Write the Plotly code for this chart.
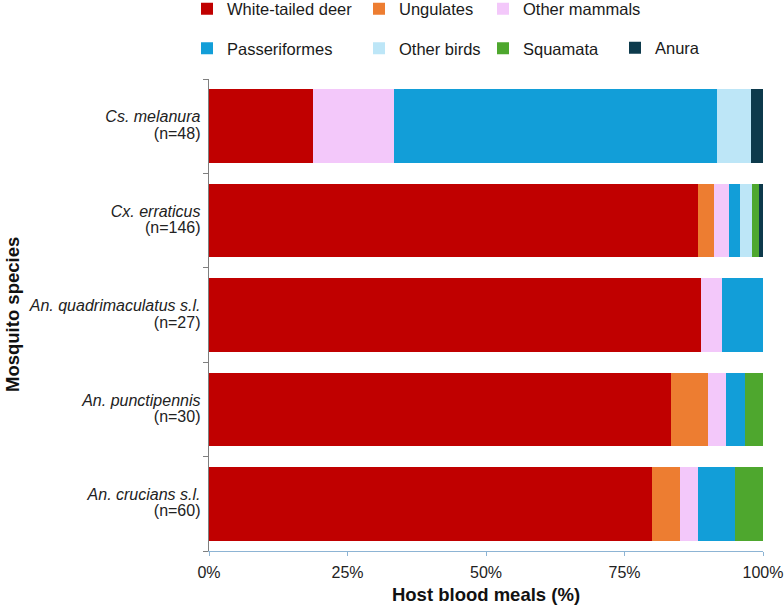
import plotly.graph_objects as go

# Mosquito species (top to bottom) and sample sizes
species = ['Cs. melanura', 'Cx. erraticus', 'An. quadrimaculatus s.l.',
           'An. punctipennis', 'An. crucians s.l.']
n_meals = [48, 146, 27, 30, 60]

# Blood meal counts per host group (same order as species)
hosts = ['White-tailed deer', 'Ungulates', 'Other mammals',
         'Passeriformes', 'Other birds', 'Squamata', 'Anura']
deer = [9, 129, 24, 25, 48]
ungulates = [0, 4, 0, 2, 3]
other_mammals = [7, 4, 1, 1, 2]
passeriformes = [28, 3, 2, 1, 4]
other_birds = [3, 3, 0, 0, 0]
squamata = [0, 2, 0, 1, 3]
anura = [1, 1, 0, 0, 0]

counts = [deer, ungulates, other_mammals, passeriformes,
          other_birds, squamata, anura]
colors = ['#C00000', '#ED7D31', '#F3C8FA', '#129ED8',
          '#BDE6F7', '#4EA72E', '#0D3A4C']
# which legend column each host goes into
legend_ids = ['legend', 'legend2', 'legend3', 'legend', 'legend2', 'legend3', 'legend4']

# small base size keeps the two label lines close together
span = "<span style='font-size:16px'>{}</span>"
labels = [span.format(f'<i>{s}</i>') + '<br>' + span.format(f'(n={n})')
          for s, n in zip(species, n_meals)]

fig = go.Figure()
for name, vals, col, lg in zip(hosts, counts, colors, legend_ids):
    pct = [v / n * 100 for v, n in zip(vals, n_meals)]
    fig.add_trace(go.Bar(
        y=labels, x=pct, name=name, orientation='h',
        marker=dict(color=col, line=dict(width=0)),
        legend=lg, legendgroup=name,
    ))

leg_common = dict(orientation='v', xref='container', yref='paper',
                  yanchor='top', xanchor='left', traceorder='grouped',
                  tracegroupgap=15, font=dict(size=16.5, color='#1a1a1a'),
                  bgcolor='rgba(0,0,0,0)', itemwidth=30)

top_y = 1 + (79 + 8.5) / 472
fig.update_layout(
    width=784, height=614,
    barmode='stack', bargap=0.22,
    plot_bgcolor='white', paper_bgcolor='white',
    font=dict(family='Liberation Sans, Arial, sans-serif', color='#222222'),
    margin=dict(l=209, r=21, t=79, b=63, autoexpand=False),
    legend=dict(x=187 / 784, y=top_y, **leg_common),
    legend2=dict(x=359 / 784, y=top_y, **leg_common),
    legend3=dict(x=483 / 784, y=top_y, **leg_common),
    legend4=dict(x=615 / 784, y=1 + (79 - 30.5) / 472, **leg_common),
    xaxis=dict(
        range=[0, 100], tickvals=[0, 25, 50, 75, 100],
        ticktext=['0%', '25%', '50%', '75%', '100%'],
        showgrid=False, zeroline=False,
        showline=True, linecolor='#8DB4D4', linewidth=1,
        ticks='outside', ticklen=4, tickcolor='#8DB4D4',
        tickfont=dict(size=16, color='#222222'), ticklabelstandoff=3,
        title=dict(text='<b>Host blood meals (%)</b>', font=dict(size=18.5, color='#111111'),
                   standoff=7),
    ),
    yaxis=dict(
        categoryorder='array', categoryarray=labels[::-1],
        showgrid=False,
        showline=True, linecolor='#7F7F7F', linewidth=1,
        ticks='outside', ticklen=5, tickcolor='#7F7F7F', tickson='boundaries',
        tickfont=dict(size=12.5, color='#222222'), ticklabelstandoff=5,
    ),
)

# y-axis title as annotation (axis title lands in the wrong spot with boundary ticks)
fig.add_annotation(
    text='<b>Mosquito species</b>', textangle=-90,
    xref='paper', yref='paper', x=(12 - 209) / 554, y=0.5,
    xanchor='center', yanchor='middle',
    showarrow=False, font=dict(size=18.5, color='#111111'),
)

fig.write_html('out.html', config={'displayModeBar': False},
               post_script="document.body.style.margin='0';")
